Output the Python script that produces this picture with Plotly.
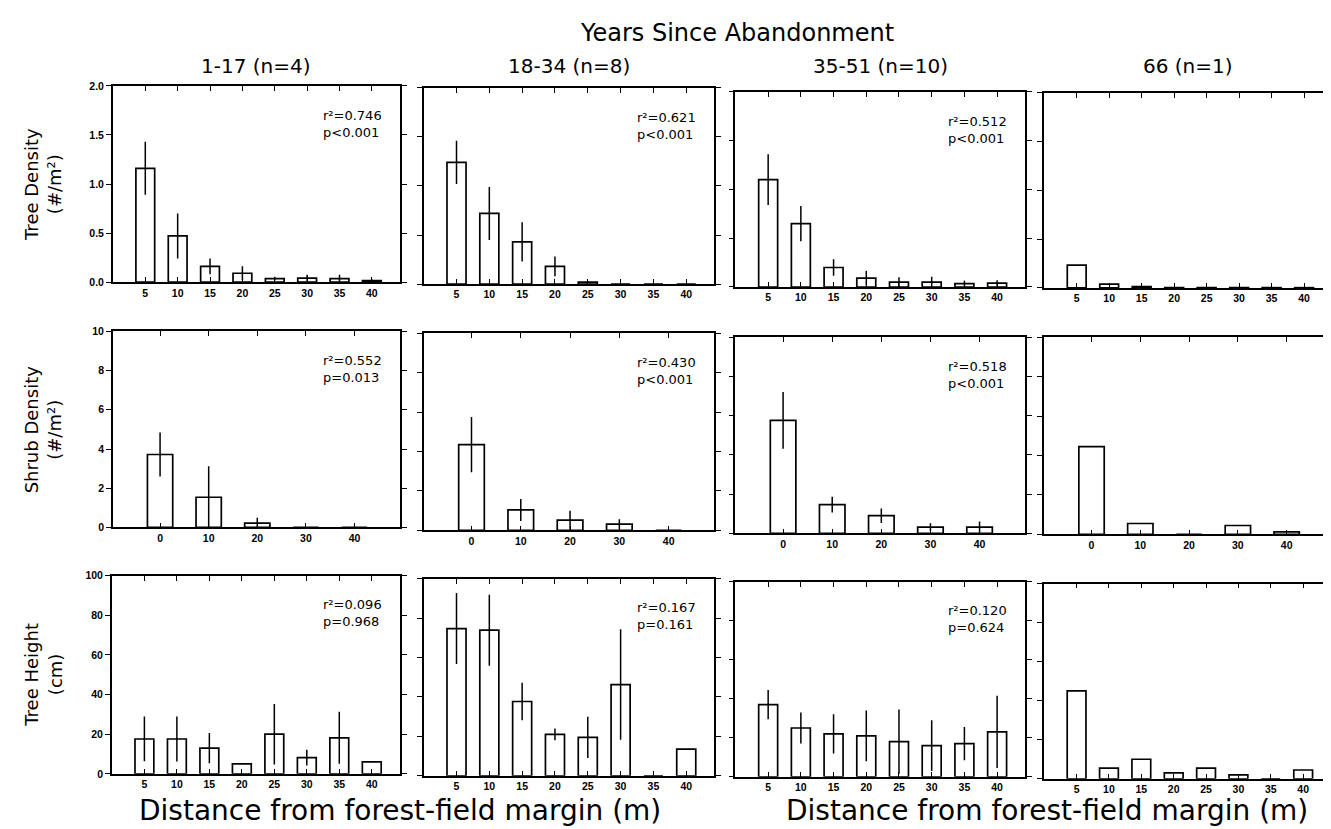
import plotly.graph_objects as go

# ---------------- data ----------------
tree_dist = [5, 10, 15, 20, 25, 30, 35, 40]
shrub_dist = [0, 10, 20, 30, 40]

age_classes = ["1-17 (n=4)", "18-34 (n=8)", "35-51 (n=10)", "66 (n=1)"]

tree_density_1_17 = [1.16, 0.47, 0.16, 0.09, 0.035, 0.04, 0.035, 0.015]
tree_density_1_17_se = [0.27, 0.23, 0.08, 0.07, 0.02, 0.035, 0.04, 0.01]
tree_density_18_34 = [1.24, 0.72, 0.43, 0.18, 0.02, 0, 0, 0]
tree_density_18_34_se = [0.22, 0.27, 0.20, 0.10, 0.01, 0, 0, 0]
tree_density_35_51 = [1.10, 0.65, 0.20, 0.09, 0.05, 0.05, 0.035, 0.04]
tree_density_35_51_se = [0.26, 0.18, 0.085, 0.075, 0.05, 0.055, 0.03, 0.03]
tree_density_66 = [0.235, 0.04, 0.015, 0.005, 0.003, 0.005, 0.003, 0.003]

shrub_density_1_17 = [3.72, 1.54, 0.22, 0, 0]
shrub_density_1_17_se = [1.12, 1.58, 0.28, 0, 0]
shrub_density_18_34 = [4.35, 1.04, 0.52, 0.32, 0]
shrub_density_18_34_se = [1.40, 0.56, 0.48, 0.25, 0]
shrub_density_35_51 = [5.76, 1.47, 0.90, 0.32, 0.32]
shrub_density_35_51_se = [1.45, 0.40, 0.37, 0.20, 0.28]
shrub_density_66 = [4.45, 0.55, 0, 0.45, 0.13]

tree_height_1_17 = [17.6, 17.6, 13.0, 5.0, 20.0, 8.2, 18.2, 6.0]
tree_height_1_17_se = [11.3, 11.4, 7.6, 0, 15.3, 4.0, 13.1, 0]
tree_height_18_34 = [74.7, 73.9, 37.7, 21.0, 19.5, 46.3, 0, 13.5]
tree_height_18_34_se = [18.0, 18.0, 9.5, 3.0, 10.5, 28.0, 0, 0]
tree_height_35_51 = [37.0, 25.0, 22.0, 21.0, 18.0, 16.0, 17.0, 23.0]
tree_height_35_51_se = [7.5, 8.0, 10.0, 13.0, 16.5, 13.0, 8.5, 18.5]
tree_height_66 = [45.0, 5.5, 10.0, 3.0, 5.5, 2.0, 0, 4.5]

stats_tree_density = [("0.746", "p<0.001"), ("0.621", "p<0.001"), ("0.512", "p<0.001"), None]
stats_shrub_density = [("0.552", "p=0.013"), ("0.430", "p<0.001"), ("0.518", "p<0.001"), None]
stats_tree_height = [("0.096", "p=0.968"), ("0.167", "p=0.161"), ("0.120", "p=0.624"), None]

y_ticks_tree_density = [0, 0.5, 1.0, 1.5, 2.0]
y_ticklabels_tree_density = ["0.0", "0.5", "1.0", "1.5", "2.0"]
y_ticks_shrub_density = [0, 2, 4, 6, 8, 10]
y_ticks_tree_height = [0, 20, 40, 60, 80, 100]

row_titles = ["Tree Density<br>(#/m²)", "Shrub Density<br>(#/m²)", "Tree Height<br>(cm)"]

# ---------------- layout geometry (pixels) ----------------
W, H = 1331, 829
rects = {
    (0, 0): (105, 73, 392, 272), (0, 1): (416, 75, 707, 274),
    (0, 2): (728, 79, 1018, 277), (0, 3): (1037, 80, 1325, 278),
    (1, 0): (105, 322, 392, 521), (1, 1): (416, 324, 707, 524),
    (1, 2): (728, 328, 1018, 527), (1, 3): (1037, 328, 1325, 528),
    (2, 0): (104, 570, 392, 771), (2, 1): (416, 573, 707, 773),
    (2, 2): (728, 576, 1018, 774), (2, 3): (1037, 578, 1324, 776),
}


def fx(x):
    return x / W


def fy(y):
    return 1 - y / H


rows = [
    dict(x=tree_dist, vals=[tree_density_1_17, tree_density_18_34, tree_density_35_51, tree_density_66],
         se=[tree_density_1_17_se, tree_density_18_34_se, tree_density_35_51_se, None],
         yr=[0, 2.0], yt=y_ticks_tree_density, ytl=y_ticklabels_tree_density,
         xr=[0, 44.3], bw=2.9, stats=stats_tree_density),
    dict(x=shrub_dist, vals=[shrub_density_1_17, shrub_density_18_34, shrub_density_35_51, shrub_density_66],
         se=[shrub_density_1_17_se, shrub_density_18_34_se, shrub_density_35_51_se, None],
         yr=[0, 10], yt=y_ticks_shrub_density, ytl=[str(v) for v in y_ticks_shrub_density],
         xr=[-9.7, 49.3], bw=5.2, stats=stats_shrub_density),
    dict(x=tree_dist, vals=[tree_height_1_17, tree_height_18_34, tree_height_35_51, tree_height_66],
         se=[tree_height_1_17_se, tree_height_18_34_se, tree_height_35_51_se, None],
         yr=[0, 100], yt=y_ticks_tree_height, ytl=[str(v) for v in y_ticks_tree_height],
         xr=[0, 44.3], bw=2.9, stats=stats_tree_height),
]

fig = go.Figure()
layout = {}
annotations = []
tickfont = dict(family="Liberation Sans", size=10.5, color="black", weight="bold")

k = 0
for r, row in enumerate(rows):
    for c in range(4):
        k += 1
        xs = "x" if k == 1 else f"x{k}"
        ys = "y" if k == 1 else f"y{k}"
        L, T, R, B = rects[(r, c)]
        err = None
        if row["se"][c] is not None:
            err = dict(type="data", array=row["se"][c], symmetric=True, visible=True,
                       color="black", thickness=1.5, width=0)
        fig.add_trace(go.Bar(
            x=row["x"], y=row["vals"][c], width=row["bw"],
            marker=dict(color="white", line=dict(color="black", width=1.7)),
            error_y=err, xaxis=xs, yaxis=ys, showlegend=False, hoverinfo="x+y",
        ))
        layout["xaxis" if k == 1 else f"xaxis{k}"] = dict(
            domain=[fx(L), fx(R)], range=row["xr"], anchor=ys,
            tickmode="array", tickvals=row["x"], ticktext=[str(v) for v in row["x"]],
            ticks="inside", ticklen=5, tickwidth=1.3, tickcolor="black",
            showline=True, linecolor="black", linewidth=1.7, mirror="ticks",
            showgrid=False, zeroline=False, tickfont=tickfont, fixedrange=True,
        )
        layout["yaxis" if k == 1 else f"yaxis{k}"] = dict(
            domain=[fy(B), fy(T)], range=row["yr"], anchor=xs,
            tickmode="array", tickvals=row["yt"], ticktext=row["ytl"],
            showticklabels=(c == 0),
            ticks="outside", ticklen=5, tickwidth=1.3, tickcolor="black",
            showline=True, linecolor="black", linewidth=1.7, mirror="ticks",
            showgrid=False, zeroline=False, tickfont=tickfont, fixedrange=True,
        )
        st = row["stats"][c]
        if st is not None:
            annotations.append(dict(
                x=fx(L + 0.725 * (R - L)), y=fy(T + 20), xref="paper", yref="paper",
                xanchor="left", yanchor="top", align="left", showarrow=False,
                text=f"r²={st[0]}<br>{st[1]}",
                font=dict(family="DejaVu Sans", size=13, color="black"),
            ))

# row titles
for r in range(3):
    L, T, R, B = rects[(r, 0)]
    annotations.append(dict(
        x=fx(35), y=fy((T + B) / 2), xref="paper", yref="paper",
        xanchor="center", yanchor="middle", showarrow=False, textangle=-90,
        text=row_titles[r], font=dict(family="DejaVu Sans", size=18, color="black"),
    ))

# column titles
for c in range(4):
    L, T, R, B = rects[(0, c)]
    annotations.append(dict(
        x=fx((L + R) / 2), y=fy(53), xref="paper", yref="paper",
        xanchor="center", yanchor="middle", showarrow=False,
        text=age_classes[c], font=dict(family="DejaVu Sans", size=20, color="black"),
    ))

# main title
annotations.append(dict(
    x=fx(730), y=fy(19), xref="paper", yref="paper", xanchor="center", yanchor="middle",
    showarrow=False, text="Years Since Abandonment",
    font=dict(family="DejaVu Sans", size=24, color="black"),
))

# bottom titles
for cx in (392, 1040):
    annotations.append(dict(
        x=fx(cx), y=fy(808), xref="paper", yref="paper", xanchor="center", yanchor="middle",
        showarrow=False, text="Distance from forest-field margin (m)",
        font=dict(family="DejaVu Sans", size=28, color="black"),
    ))

fig.update_layout(
    width=W, height=H, margin=dict(l=0, r=0, t=0, b=0),
    paper_bgcolor="white", plot_bgcolor="white", showlegend=False,
    annotations=annotations, **layout,
)

fig.write_html("out.html")
